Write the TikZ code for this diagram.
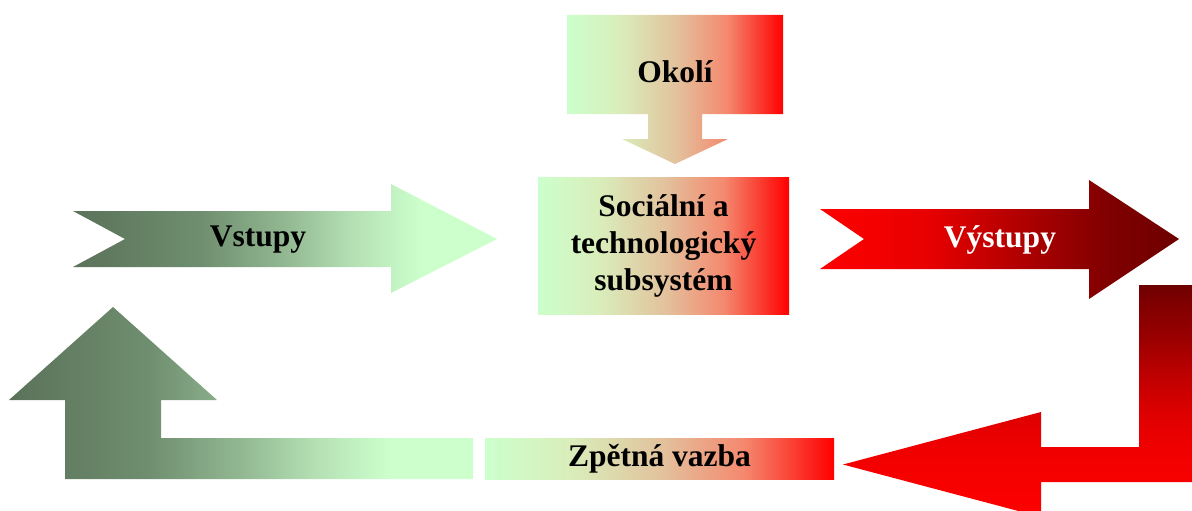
\documentclass[tikz,border=0pt]{standalone}
\usepackage{fontspec}
\setmainfont{Liberation Serif}
\usetikzlibrary{calc}

\definecolor{paleGreen}{HTML}{CCFFCC}
\definecolor{leafGreen}{HTML}{D9EEBB}
\definecolor{sandTan}{HTML}{E2C39E}
\definecolor{salmonRed}{HTML}{F4896F}
\definecolor{darkGreen}{HTML}{5A725A}
\definecolor{greyGreen}{HTML}{6F8E6F}
\definecolor{midGreen}{HTML}{92B892}
\definecolor{softGreen}{HTML}{B4E0B4}
\definecolor{brightRed}{HTML}{FF0000}
\definecolor{warmRed}{HTML}{E80000}
\definecolor{deepRed}{HTML}{A80000}
\definecolor{maroonRed}{HTML}{800000}
\definecolor{darkRed}{HTML}{6E0000}
\definecolor{nearRed}{HTML}{F80000}
\definecolor{hotRed}{HTML}{F00000}
\definecolor{fireRed}{HTML}{DC0000}
\definecolor{duskRed}{HTML}{B80000}
\definecolor{wineRed}{HTML}{980000}

\pgfdeclarehorizontalshading{greentored}{100bp}{color(0bp)=(paleGreen); color(25bp)=(paleGreen); color(37bp)=(leafGreen); color(50bp)=(sandTan); color(62bp)=(salmonRed); color(75bp)=(brightRed); color(100bp)=(brightRed)}
\pgfdeclarehorizontalshading{greenfade}{100bp}{color(0bp)=(darkGreen); color(25bp)=(darkGreen); color(40bp)=(greyGreen); color(50bp)=(midGreen); color(58bp)=(softGreen); color(66bp)=(paleGreen); color(100bp)=(paleGreen)}
\pgfdeclarehorizontalshading{redfade}{100bp}{color(0bp)=(brightRed); color(25bp)=(brightRed); color(40bp)=(warmRed); color(55bp)=(deepRed); color(65bp)=(maroonRed); color(75bp)=(darkRed); color(100bp)=(darkRed)}
\pgfdeclareverticalshading{redrise}{100bp}{color(0bp)=(brightRed); color(25bp)=(brightRed); color(32bp)=(nearRed); color(40bp)=(hotRed); color(48bp)=(fireRed); color(57bp)=(duskRed); color(64bp)=(wineRed); color(71bp)=(maroonRed); color(75bp)=(darkRed); color(100bp)=(darkRed)}

\begin{document}
\begin{tikzpicture}[x=1pt, y=-1pt,
	boldtext/.style={font=\fontsize{31.5}{37}\selectfont\bfseries, inner sep=0pt}]
	\useasboundingbox (0,0) rectangle (1192,511);
	\clip (0,0) rectangle (1192,511);
	% Okoli
	\path[shading=greentored] (567,15) -- (783,15) -- (783,114) -- (702,114) -- (702,139) -- (728,139)
		-- (675,164) -- (622,139) -- (648,139) -- (648,114) -- (567,114) -- cycle;
	\node[boldtext, anchor=base] (okoli) at (675,83) {Okolí};
	% subsystem
	\node[boldtext, align=center, shading=greentored, minimum width=251pt, minimum height=137pt]
		(system) at (663.5,245.5) {Sociální a\\technologický\\subsystém};
	% Vstupy
	\path[shading=greenfade] (73,211) -- (391,211) -- (391,184) -- (497,239) -- (391,293)
		-- (391,267) -- (73,267) -- (125,239) -- cycle;
	\node[boldtext, anchor=base] (vstupy) at (258,246) {Vstupy};
	% Vystupy
	\path[shading=redfade] (820,209) -- (1089,209) -- (1089,180) -- (1179,239) -- (1089,299)
		-- (1089,269) -- (820,269) -- (864,239) -- cycle;
	\node[boldtext, anchor=base, white] (vystupy) at (1000,247) {Výstupy};
	% feedback loop
	\path[shading=redrise] (1139,285) -- (1200,285) -- (1200,482) -- (1041,482) -- (1041,517)
		-- (843,464.5) -- (1041,412) -- (1041,447) -- (1139,447) -- cycle;
	\node[boldtext, shading=greentored, minimum width=349pt, minimum height=41pt]
		(zpetna) at (659.5,458.5) {Zpětná vazba};
	\path[shading=greenfade] (473,438) -- (161,438) -- (161,400) -- (217,400) -- (113,307)
		-- (9,400) -- (65,400) -- (65,479) -- (473,479) -- cycle;
\end{tikzpicture}
\end{document}
